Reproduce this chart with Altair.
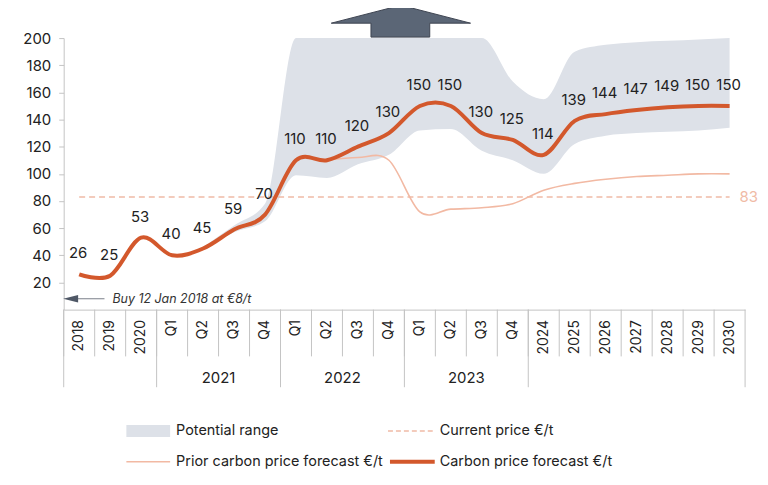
import altair as alt
import pandas as pd

# ---------------- data ----------------
categories = ["2018", "2019", "2020",
              "2021 Q1", "2021 Q2", "2021 Q3", "2021 Q4",
              "2022 Q1", "2022 Q2", "2022 Q3", "2022 Q4",
              "2023 Q1", "2023 Q2", "2023 Q3", "2023 Q4",
              "2024", "2025", "2026", "2027", "2028", "2029", "2030"]
forecast = [26, 25, 53, 40, 45, 59, 70, 110, 110, 120, 130, 150, 150, 130, 125,
            114, 139, 144, 147, 149, 150, 150]

prior_categories = categories[8:]
prior_forecast = [110, 112, 110, 72, 74, 75, 78, 88, 93, 96, 98, 99, 100, 100]

range_categories = categories[4:]
range_low = [44, 57, 65, 99, 97, 107, 114, 132, 133, 117, 110, 100, 122, 128, 130, 131, 132, 134]
range_high = [46, 62, 78, 200, 200, 200, 200, 200, 200, 200, 168, 155, 190, 195, 197, 198, 199, 200]

current_price = 83

group_labels = ["2021", "2022", "2023"]
group_anchor = ["2021 Q2", "2022 Q2", "2023 Q2"]
group_edges = ["2018", "2021 Q1", "2022 Q1", "2023 Q1", "2024"]

y_ticks = [20, 40, 60, 80, 100, 120, 140, 160, 180, 200]

buy_text = "Buy 12 Jan 2018 at €8/t"
buy_value = 8

legend_labels = ["Potential range", "Current price €/t",
                 "Prior carbon price forecast €/t", "Carbon price forecast €/t"]

# ---------------- styles ----------------
FONT = "Inter"
ORANGE = "#D3582C"
PRIOR = "#F2B9A3"
DASH = "#F0BBA6"
RANGE = "#DDE1E8"
GRID = "#C4C4C4"
TEXT = "#222222"

W, H = 685, 273

df_main = pd.DataFrame({"cat": categories, "v": forecast})
df_prior = pd.DataFrame({"cat": prior_categories, "v": prior_forecast})
df_range = pd.DataFrame({"cat": range_categories, "lo": range_low, "hi": range_high})
df_cur = pd.DataFrame({"cat": categories, "v": [current_price] * len(categories)})
df_cur_lbl = pd.DataFrame({"cat": [categories[-1]], "v": [current_price]})
df_groups = pd.DataFrame({"cat": group_anchor, "label": group_labels})
df_edges = pd.DataFrame({"cat": group_edges})
df_all = pd.DataFrame({"cat": categories})
df_last = pd.DataFrame({"cat": [categories[-1]]})
df_buy = pd.DataFrame({"v": [buy_value], "t": [buy_text]})
df_one = pd.DataFrame({"a": [0]})

xscale = alt.Scale(type="band", domain=categories, paddingInner=0, paddingOuter=0)
xaxis = alt.Axis(title=None, labelAngle=270, ticks=False, labelPadding=10,
                 labelFontSize=14, labelColor=TEXT, labelFont=FONT,
                 domainColor=GRID,
                 labelExpr="length(datum.value) > 4 ? substring(datum.value, 5) : datum.value")
yscale = alt.Scale(domain=[0, 200], nice=False)
yaxis = alt.Axis(title=None, values=y_ticks, grid=False, domainColor=GRID,
                 tickColor=GRID, tickSize=5, labelPadding=8, labelFontSize=15,
                 labelColor=TEXT, labelFont=FONT)


def X(**kw):
    return alt.X("cat:N", scale=xscale, axis=xaxis, sort=categories, **kw)


def Y(field="v"):
    return alt.Y(f"{field}:Q", scale=yscale, axis=yaxis)


area = alt.Chart(df_range).mark_area(color=RANGE, interpolate="monotone").encode(
    x=X(), y=Y("lo"), y2="hi:Q")

cur_line = alt.Chart(df_cur).mark_line(color=DASH, strokeDash=[6, 4], strokeWidth=1.6).encode(
    x=X(), y=Y())
cur_lbl = alt.Chart(df_cur_lbl).mark_text(color=DASH, align="left", dx=10, fontSize=15,
                                          font=FONT).encode(
    x=X(), y=Y(), text=alt.Text("v:Q"))

prior_line = alt.Chart(df_prior).mark_line(color=PRIOR, strokeWidth=1.6,
                                           interpolate="cardinal").encode(x=X(), y=Y())

main_line = alt.Chart(df_main).mark_line(color=ORANGE, strokeWidth=4,
                                         interpolate="cardinal").encode(x=X(), y=Y())
main_lbl = alt.Chart(df_main).mark_text(color=TEXT, dy=-21, dx=-1, fontSize=15,
                                        font=FONT).encode(
    x=X(), y=Y(), text=alt.Text("v:Q"))

# category separators below the axis
sep_short = alt.Chart(df_all).mark_rule(color=GRID, strokeWidth=1).encode(
    x=X(bandPosition=0), y=alt.value(H), y2=alt.value(H + 47))
sep_long = alt.Chart(df_edges).mark_rule(color=GRID, strokeWidth=1).encode(
    x=X(bandPosition=0), y=alt.value(H), y2=alt.value(H + 78))
sep_end = alt.Chart(df_last).mark_rule(color=GRID, strokeWidth=1).encode(
    x=X(bandPosition=1), y=alt.value(H), y2=alt.value(H + 78))
group_txt = alt.Chart(df_groups).mark_text(color=TEXT, fontSize=15, font=FONT,
                                           baseline="middle").encode(
    x=X(bandPosition=1), y=alt.value(H + 69), text="label:N")

# "Buy" annotation
buy_line = alt.Chart(df_buy).mark_rule(color="#7A7F88", strokeWidth=1).encode(
    x=alt.value(14), x2=alt.value(41), y=Y())
buy_head = alt.Chart(df_buy).mark_point(shape="M-1,0L1,-0.5L1,0.5Z", filled=True,
                                        color="#4F5866", opacity=1, size=225).encode(
    x=alt.value(7), y=Y())
buy_txt = alt.Chart(df_buy).mark_text(align="left", fontStyle="italic", fontSize=12.5,
                                      color="#333333", font=FONT).encode(
    x=alt.value(49), y=Y(), text="t:N")

# up arrow over the open-ended range
up_arrow = alt.Chart(df_one).mark_point(
    shape="M0,-0.229L1,0.029L0.414,0.029L0.414,0.229L-0.43,0.229L-0.43,0.029L-1,0.029Z",
    filled=True, fill="#5B6676", stroke="#3E4552", strokeWidth=1, opacity=1,
    size=19600).encode(x=alt.value(339), y=alt.value(-17))

# legend
ly1, ly2 = H + 122, H + 153
leg_rect = alt.Chart(df_one).mark_rect(color=RANGE).encode(
    x=alt.value(63), x2=alt.value(107), y=alt.value(ly1 - 6), y2=alt.value(ly1 + 6))
leg_dash = alt.Chart(df_one).mark_rule(color=DASH, strokeDash=[5, 3], strokeWidth=1.6).encode(
    x=alt.value(326), x2=alt.value(373), y=alt.value(ly1))
leg_prior = alt.Chart(df_one).mark_rule(color=PRIOR, strokeWidth=1.6).encode(
    x=alt.value(63), x2=alt.value(107), y=alt.value(ly2))
leg_main = alt.Chart(df_one).mark_rule(color=ORANGE, strokeWidth=4).encode(
    x=alt.value(328), x2=alt.value(373), y=alt.value(ly2))
leg_txts = []
for i, (lx, ly) in enumerate([(113, ly1), (378, ly1), (113, ly2), (378, ly2)]):
    leg_txts.append(
        alt.Chart(pd.DataFrame({"t": [legend_labels[i]]})).mark_text(
            align="left", baseline="middle", fontSize=14.5, color=TEXT, font=FONT).encode(
            x=alt.value(lx), y=alt.value(ly), text="t:N"))

chart = alt.layer(
    area, cur_line, prior_line, main_line, main_lbl, cur_lbl,
    sep_short, sep_long, sep_end, group_txt,
    buy_line, buy_head, buy_txt, up_arrow,
    leg_rect, leg_dash, leg_prior, leg_main, *leg_txts
).properties(
    width=W, height=H,
    autosize=alt.AutoSizeParams(type="none"),
    padding={"left": 56, "top": 29, "right": 15, "bottom": 160},
    background="white",
).configure_view(stroke=None)

chart.save("out.html", embed_options={"renderer": "svg", "actions": False})
